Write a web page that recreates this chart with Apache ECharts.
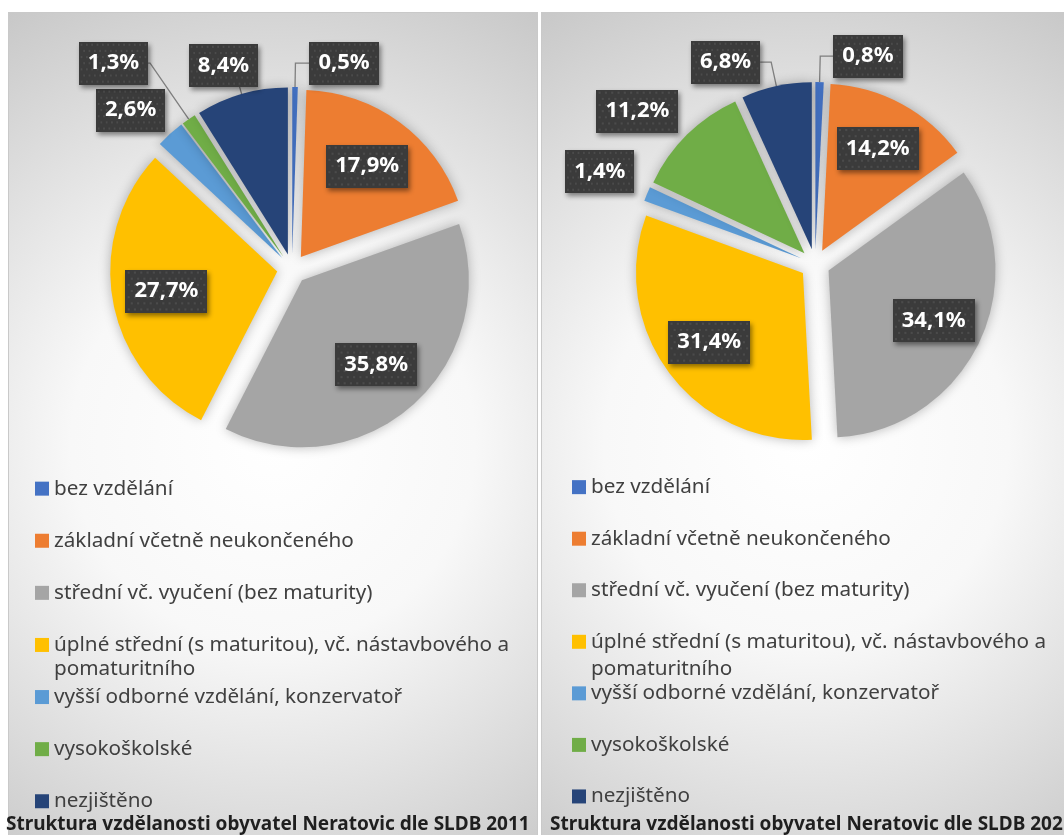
<!DOCTYPE html>
<html>
<head>
<meta charset="utf-8">
<title>Struktura vzdělanosti obyvatel Neratovic</title>
<script src="https://cdn.jsdelivr.net/npm/echarts@6/dist/echarts.min.js"></script>
<style>
  html, body { margin: 0; padding: 0; background: #fff; }
  body { position: relative; width: 1064px; height: 835px; overflow: hidden; }
  .panel {
    position: absolute; top: 12px; height: 830px; width: 530px;
    box-sizing: border-box; border: 1px solid #c9c9c9;
    background: radial-gradient(circle farthest-corner at 50% 52%, #ffffff 0%, #f8f8f8 40%, #c8c8c8 100%);
  }
  #panel2011 { left: 8px; }
  #panel2021 { left: 541px; }
  .chart { position: absolute; top: 0; height: 835px; }
  #chart2011 { left: 0; width: 540px; }
  #chart2021 { left: 540px; width: 524px; }
</style>
</head>
<body>
<div id="panel2011" class="panel"></div>
<div id="panel2021" class="panel"></div>
<div id="chart2011" class="chart"></div>
<div id="chart2021" class="chart"></div>
<script>
// kategorie vzdělání (pořadí jako v legendě)
const categories = [
  'bez vzdělání',
  'základní včetně neukončeného',
  'střední vč. vyučení (bez maturity)',
  'úplné střední (s maturitou), vč. nástavbového a pomaturitního',
  'vyšší odborné vzdělání, konzervatoř',
  'vysokoškolské',
  'nezjištěno'
];
// podíly v % podle popisků v grafu
const values2011 = [0.5, 17.9, 35.8, 27.7, 2.6, 1.3, 8.4];
const values2021 = [0.8, 14.2, 34.1, 31.4, 1.4, 11.2, 6.8];
const colors = ['#4472C4', '#ED7D31', '#A5A5A5', '#FFC000', '#5B9BD5', '#70AD47', '#264478'];
const title2011 = 'Struktura vzdělanosti obyvatel Neratovic dle SLDB 2011';
const title2021 = 'Struktura vzdělanosti obyvatel Neratovic dle SLDB 2021';
const WRAP = ' pomaturitního';

const FONT = '"Noto Sans", "Open Sans", sans-serif';
const LEGEND_SIZE = 20.7;

// popisky mimo výseč: délky vodicí čáry, případně zarovnání k okraji
const outside2011 = {
  0: { len: 24, len2: 14 },
  4: { len: 32, len2: 0, edge: 106, hideLine: true },
  5: { len: 68, len2: 2 },
  6: { len: 30, len2: 0, edge: 193 }
};
const outside2021 = {
  0: { len: 26, len2: 13 },
  4: { len: 59, len2: 0, edge: 39, hideLine: true },
  5: { len: 33, len2: 0, edge: 67, hideLine: true },
  6: { len: 24.5, len2: 11 }
};

// tmavé tečkované pozadí popisků
const makeDots = (w, h) => {
  const c = document.createElement('canvas');
  c.width = w; c.height = h;
  const g = c.getContext('2d');
  g.fillStyle = '#3b3b3b';
  g.fillRect(0, 0, w, h);
  g.fillStyle = '#515151';
  for (let y = 3, row = 0; y < h; y += 6, row++) {
    for (let x = row % 2 ? 6 : 3; x < w; x += 6) {
      g.beginPath();
      g.arc(x, y, 1.1, 0, Math.PI * 2);
      g.fill();
    }
  }
  return c;
};
const dots = makeDots(78, 42);

const fmt = v => v.toFixed(1).replace('.', ',') + '%';

const labelBox = {
  color: '#ffffff',
  fontFamily: FONT,
  fontSize: 22,
  fontWeight: 'bold',
  backgroundColor: { image: dots },
  padding: [11, 9, 10, 9],
  shadowColor: 'rgba(0,0,0,0.45)',
  shadowBlur: 5,
  shadowOffsetX: 2,
  shadowOffsetY: 3,
  formatter: p => fmt(p.value)
};

const buildOption = (values, outside, title, center, labelInner, lg) => {
  const r = 167;
  const sliceData = categories.map((name, i) => ({
    name: name,
    value: values[i],
    selected: true,
    itemStyle: { color: colors[i] }
  }));
  const labelData = categories.map((name, i) => {
    const o = outside[i];
    const item = { name: name, value: values[i], selected: true };
    if (o) {
      item.label = {
        position: 'outside',
        alignTo: o.edge != null ? 'edge' : 'none',
        edgeDistance: o.edge != null ? o.edge : 0
      };
      item.labelLine = { show: !o.hideLine, length: o.len, length2: o.len2 };
    } else {
      item.label = { position: 'inside' };
    }
    return item;
  });

  // druhý řádek dlouhé položky legendy
  const wrapIdx = categories.findIndex(c => c.indexOf(WRAP) > 0);

  return {
    animation: false,
    backgroundColor: 'transparent',
    title: {
      text: title,
      left: lg.titleLeft,
      top: 815,
      padding: 0,
      textStyle: { fontFamily: FONT, fontSize: 19, fontWeight: 'bold', color: '#1f1f1f' }
    },
    legend: {
      orient: 'vertical',
      left: lg.left,
      top: lg.first - LEGEND_SIZE / 2,
      padding: 0,
      itemWidth: 14,
      itemHeight: 14,
      itemGap: lg.step - LEGEND_SIZE,
      icon: 'rect',
      selectedMode: false,
      data: categories,
      formatter: name => name.replace(WRAP, ''),
      textStyle: { fontFamily: FONT, fontSize: LEGEND_SIZE, color: '#404040' }
    },
    graphic: [{
      type: 'text',
      x: lg.left + 14 + 5,
      y: lg.first + wrapIdx * lg.step + lg.wrap,
      silent: true,
      style: {
        text: WRAP.trim(),
        fontFamily: FONT,
        fontSize: LEGEND_SIZE,
        fill: '#404040',
        verticalAlign: 'middle'
      }
    }],
    series: [
      {
        name: 'slices',
        type: 'pie',
        center: center,
        radius: [0, r],
        startAngle: 90,
        clockwise: true,
        selectedMode: 'multiple',
        selectedOffset: 15,
        label: { show: false },
        labelLine: { show: false },
        itemStyle: { shadowBlur: 12, shadowColor: 'rgba(0,0,0,0.28)' },
        select: { itemStyle: { borderWidth: 0 } },
        emphasis: { disabled: true },
        data: sliceData
      },
      {
        name: 'labels',
        type: 'pie',
        center: center,
        radius: [labelInner, r],
        startAngle: 90,
        clockwise: true,
        silent: true,
        selectedMode: 'multiple',
        selectedOffset: 15,
        avoidLabelOverlap: false,
        labelLayout: { hideOverlap: false },
        itemStyle: { color: 'rgba(0,0,0,0)' },
        select: { itemStyle: { color: 'rgba(0,0,0,0)', borderWidth: 0 } },
        emphasis: { disabled: true },
        label: Object.assign({ show: true, distanceToLabelLine: 0 }, labelBox),
        labelLine: {
          show: true,
          smooth: false,
          lineStyle: { color: '#7f7f7f', width: 1.3 }
        },
        data: labelData
      }
    ]
  };
};

const chart2011 = echarts.init(document.getElementById('chart2011'));
chart2011.setOption(buildOption(values2011, outside2011, title2011, [292, 269], 52,
  { left: 35, first: 488.5, step: 51.8, wrap: 25, titleLeft: 6 }));

const chart2021 = echarts.init(document.getElementById('chart2021'));
chart2021.setOption(buildOption(values2021, outside2021, title2021, [275, 264], 60,
  { left: 32, first: 487, step: 51.25, wrap: 28, titleLeft: 10 }));
</script>
</body>
</html>
